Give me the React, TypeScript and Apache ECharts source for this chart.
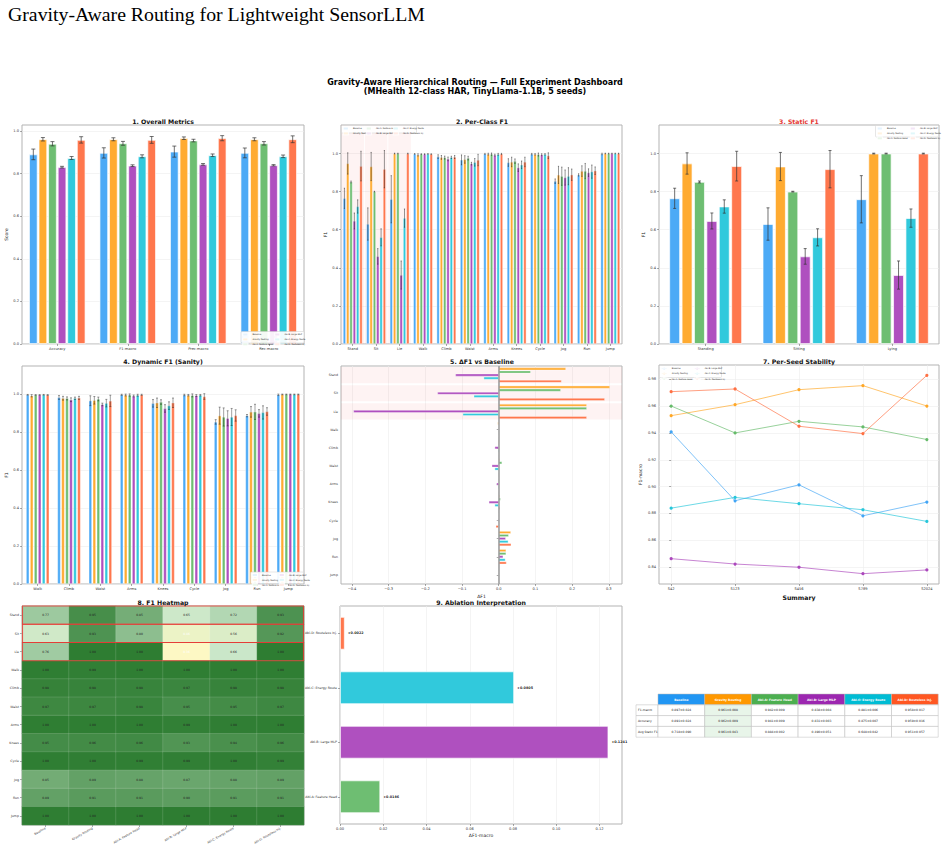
import React, { useEffect, useRef } from 'react';
import * as echarts from 'echarts';

const FONT = 'DejaVu Sans';

const methods = ['Baseline', 'Gravity Routing', 'Abl-A: Feature Head', 'Abl-B: Large MLP', 'Abl-C: Energy Route', 'Abl-D: Routeless Inj.'];
const methodColors = ['#42A5F5', '#FFA726', '#66BB6A', '#AB47BC', '#26C6DA', '#FF7043'];
const headerColors = ['#2196F3', '#FF9800', '#4CAF50', '#9C27B0', '#00BCD4', '#FF5722'];

// Panel 1: overall metrics
const metricCats = ['Accuracy', 'F1-macro', 'Prec-macro', 'Rec-macro'];
const overallMean = [
  [0.890, 0.897, 0.903, 0.897],
  [0.961, 0.961, 0.966, 0.961],
  [0.940, 0.942, 0.955, 0.942],
  [0.830, 0.837, 0.843, 0.839],
  [0.873, 0.881, 0.886, 0.881],
  [0.958, 0.958, 0.966, 0.961],
];
const overallStd = [
  [0.025, 0.024, 0.026, 0.023],
  [0.008, 0.007, 0.006, 0.007],
  [0.010, 0.009, 0.006, 0.008],
  [0.004, 0.004, 0.004, 0.003],
  [0.007, 0.007, 0.006, 0.006],
  [0.015, 0.016, 0.012, 0.016],
];

// Panel 2/3/4/8: per-class F1
const classes = ['Stand', 'Sit', 'Lie', 'Walk', 'Climb', 'Waist', 'Arms', 'Knees', 'Cycle', 'Jog', 'Run', 'Jump'];
const staticNames = ['Standing', 'Sitting', 'Lying'];
const perClassMean = [
  [0.765, 0.630, 0.760, 0.998, 0.984, 0.967, 0.998, 0.953, 0.997, 0.855, 0.888, 0.998],
  [0.948, 0.932, 1.000, 0.993, 0.980, 0.969, 0.997, 0.956, 0.996, 0.888, 0.908, 1.000],
  [0.851, 0.800, 1.000, 0.997, 0.979, 0.976, 0.997, 0.960, 0.995, 0.881, 0.908, 1.000],
  [0.646, 0.460, 0.362, 0.997, 0.972, 0.947, 0.992, 0.926, 0.994, 0.874, 0.900, 1.000],
  [0.722, 0.560, 0.661, 0.998, 0.980, 0.954, 0.996, 0.941, 0.996, 0.881, 0.905, 1.000],
  [0.934, 0.918, 1.000, 0.997, 0.982, 0.966, 0.998, 0.956, 0.989, 0.889, 0.910, 1.000],
];
const perClassStd = [
  [0.053, 0.085, 0.124, 0.002, 0.010, 0.026, 0.003, 0.020, 0.004, 0.012, 0.006, 0.004],
  [0.056, 0.074, 0.002, 0.006, 0.010, 0.020, 0.005, 0.025, 0.004, 0.045, 0.028, 0.002],
  [0.005, 0.002, 0.002, 0.002, 0.008, 0.010, 0.006, 0.012, 0.008, 0.048, 0.040, 0.002],
  [0.042, 0.041, 0.074, 0.002, 0.010, 0.007, 0.005, 0.020, 0.005, 0.040, 0.020, 0.002],
  [0.035, 0.045, 0.048, 0.002, 0.006, 0.020, 0.005, 0.020, 0.004, 0.045, 0.035, 0.002],
  [0.078, 0.098, 0.002, 0.002, 0.008, 0.030, 0.003, 0.025, 0.015, 0.030, 0.020, 0.002],
];

// Panel 5: delta F1 vs baseline (methods 1..5)
const deltaF1 = [
  [0.183, 0.303, 0.240, -0.003, -0.002, 0.002, 0.001, 0.002, -0.001, 0.033, 0.020, 0.001],
  [0.087, 0.169, 0.240, 0.000, -0.002, 0.009, -0.001, 0.005, -0.001, 0.027, 0.020, 0.001],
  [-0.118, -0.167, -0.396, -0.001, -0.011, -0.019, -0.006, -0.027, -0.002, 0.019, 0.012, 0.001],
  [-0.041, -0.068, -0.098, 0.001, -0.002, -0.011, -0.002, -0.011, -0.001, 0.026, 0.018, 0.001],
  [0.171, 0.289, 0.240, 0.000, 0.000, -0.001, 0.000, 0.003, -0.008, 0.034, 0.021, 0.001],
];

// Panel 7: per-seed F1-macro
const seeds = ['S42', 'S123', 'S456', 'S789', 'S2024'];
const seedF1 = [
  [0.9408, 0.8894, 0.9013, 0.8782, 0.8884],
  [0.9529, 0.9611, 0.9723, 0.9753, 0.9601],
  [0.9601, 0.9400, 0.9487, 0.9445, 0.9351],
  [0.8462, 0.8422, 0.8398, 0.8350, 0.8378],
  [0.8839, 0.8919, 0.8872, 0.8827, 0.8740],
  [0.9708, 0.9728, 0.9450, 0.9395, 0.9830],
];

// Panel 9: ablation interpretation
const ablationNames = ['Abl-A: Feature Head', 'Abl-B: Large MLP', 'Abl-C: Energy Route', 'Abl-D: Routeless Inj.'];
const ablationDelta = [0.0186, 0.1241, 0.0805, 0.0022];

// Summary table
const tableRowLabels = ['F1-macro', 'Accuracy', 'Avg Static F1'];
const tableF1 = ['0.897±0.024', '0.961±0.008', '0.942±0.009', '0.838±0.004', '0.881±0.006', '0.958±0.017'];
const tableAcc = ['0.891±0.024', '0.962±0.009', '0.941±0.009', '0.831±0.003', '0.875±0.007', '0.959±0.016'];
const tableStatic = ['0.718±0.090', '0.961±0.043', '0.884±0.002', '0.490±0.051', '0.648±0.042', '0.951±0.057'];

const GRIDS = [
  { left: 22, top: 125, width: 282, height: 219 },
  { left: 341, top: 125, width: 281, height: 219 },
  { left: 659, top: 125, width: 280, height: 219 },
  { left: 22, top: 366, width: 282, height: 218 },
  { left: 341, top: 366, width: 281, height: 218 },
  { left: 659, top: 365, width: 280, height: 219 },
  { left: 22, top: 606, width: 282, height: 219 },
  { left: 340, top: 606, width: 282, height: 218 },
];

const tickLabel = { fontSize: 3.6, color: '#333', fontFamily: FONT, margin: 3 };
const tickStyle = { show: true, length: 2, lineStyle: { color: '#555', width: 0.5 } };
const splitFaint = { show: true, lineStyle: { color: '#ececec', width: 0.6 } };

function axisName(name: string, gap: number) {
  return { name, nameLocation: 'middle', nameGap: gap, nameTextStyle: { fontSize: 4.5, color: '#222', fontFamily: FONT } };
}

function catAxis(gi: number, data: string[], extra: any = {}) {
  return {
    type: 'category', gridIndex: gi, data,
    axisLine: { show: false },
    axisTick: { ...tickStyle, alignWithLabel: true },
    axisLabel: { ...tickLabel, interval: 0 },
    splitLine: { show: false },
    ...extra,
  };
}

function valAxis(gi: number, min: number, max: number, ticks: number[], fmt: (v: number) => string, extra: any = {}) {
  return {
    type: 'value', gridIndex: gi, min, max,
    axisLine: { show: false },
    axisTick: { ...tickStyle, customValues: ticks },
    axisLabel: { ...tickLabel, customValues: ticks, formatter: fmt },
    splitLine: splitFaint,
    ...extra,
  };
}

function makeErr(m: number, n: number, catGap: number, gap: number, color: string, width: number, cap: number) {
  return (params: any, api: any) => {
    const c = api.value(0);
    const lo = api.value(1);
    const hi = api.value(2);
    const band = api.size([1, 0])[0];
    const avail = band * (1 - catGap);
    const bw = avail / (n + (n - 1) * gap);
    const p0 = api.coord([c, lo]);
    const p1 = api.coord([c, hi]);
    const x = p0[0] - avail / 2 + m * bw * (1 + gap) + bw / 2;
    const st = { stroke: color, lineWidth: width };
    const children: any[] = [{ type: 'line', shape: { x1: x, y1: p0[1], x2: x, y2: p1[1] }, style: st }];
    if (cap > 0) {
      children.push({ type: 'line', shape: { x1: x - cap, y1: p0[1], x2: x + cap, y2: p0[1] }, style: st });
      children.push({ type: 'line', shape: { x1: x - cap, y1: p1[1], x2: x + cap, y2: p1[1] }, style: st });
    }
    return { type: 'group', children };
  };
}

function addGroupedBars(series: any[], ai: number, means: number[][], stds: number[][], catGap: number, gap: number, err: any) {
  const n = means.length;
  means.forEach((arr, m) => {
    series.push({
      type: 'bar', name: methods[m], xAxisIndex: ai, yAxisIndex: ai, data: arr,
      barCategoryGap: `${Math.round(catGap * 100)}%`, barGap: `${Math.round(gap * 100)}%`,
      itemStyle: { color: methodColors[m], borderColor: 'rgba(255,255,255,0.9)', borderWidth: err.border, opacity: 0.95 },
      silent: true,
    });
  });
  means.forEach((arr, m) => {
    series.push({
      type: 'custom', name: '_err', xAxisIndex: ai, yAxisIndex: ai, z: 5, silent: true,
      encode: { x: 0, y: [1, 2] },
      data: arr.map((v, i) => [i, v - stds[m][i], v + stds[m][i]]),
      renderItem: makeErr(m, n, Math.round(catGap * 100) / 100, Math.round(gap * 100) / 100, err.color, err.width, err.cap),
    });
  });
}

const LINE_ICON = 'path://M0,4.4h12v1.2h-12z M6,2.4a2.6,2.6 0 1 0 0.001 0z';

// legend block: columns of method indices, frame drawn as graphic rect
function legendBlock(cols: number[][], x: number, y: number, colXs: number[], w: number, h: number, line: boolean, legends: any[], g: any[]) {
  g.push({ type: 'rect', z: 3, shape: { x, y, width: w, height: h, r: 1 }, style: { fill: 'rgba(255,255,255,0.92)', stroke: '#cccccc', lineWidth: 0.5 } });
  cols.forEach((col, ci) => {
    legends.push({
      data: col.map((i) => ({ name: methods[i], icon: line ? LINE_ICON : 'rect' })),
      left: x + 1.2 + colXs[ci], top: y + 1, orient: 'vertical',
      itemWidth: line ? 5 : 4.2, itemHeight: line ? 2.4 : 2, itemGap: 0.9,
      padding: 0,
      textStyle: { fontSize: 2.1, lineHeight: 2.5, color: '#222', fontFamily: FONT },
      selectedMode: false,
    });
  });
}

function titleText(text: string, x: number, y: number, color = '#111') {
  return { type: 'text', x, y, z: 50, style: { text, fontSize: 6.2, fontWeight: 'bold', fontFamily: FONT, fill: color, align: 'center', verticalAlign: 'middle' } };
}

function buildOption() {
  const series: any[] = [];
  const xAxis: any[] = [];
  const yAxis: any[] = [];
  const g: any[] = [];
  const legend: any[] = [];
  const grid = GRIDS.map((gr) => ({ ...gr, show: true, borderColor: '#b3b3b3', borderWidth: 1, backgroundColor: '#fff', containLabel: false }));
  const f1 = (v: number) => v.toFixed(1);
  const ticks01 = [0, 0.2, 0.4, 0.6, 0.8, 1.0];

  // Panel 1
  xAxis.push(catAxis(0, metricCats));
  yAxis.push(valAxis(0, 0, 1.028, ticks01, f1, axisName('Score', 12)));
  addGroupedBars(series, 0, overallMean, overallStd, 0.2, 0.12, { color: '#333', width: 0.7, cap: 2, border: 0.8 });

  // Panel 2
  xAxis.push(catAxis(1, classes));
  yAxis.push(valAxis(1, 0, 1.15, ticks01, f1, axisName('F1', 12)));
  series.push({
    type: 'custom', name: '_shade2', xAxisIndex: 1, yAxisIndex: 1, z: 1, silent: true,
    encode: { x: 0, y: 1 },
    data: [[0, 0], [1, 0], [2, 0]],
    renderItem: (params: any, api: any) => {
      const cx = api.coord([api.value(0), 0])[0];
      const bw = api.size([1, 0])[0];
      const cs = params.coordSys;
      return { type: 'rect', shape: { x: cx - bw * 0.48, y: cs.y, width: bw * 0.96, height: cs.height }, style: { fill: 'rgba(239,83,80,0.07)' } };
    },
  });
  addGroupedBars(series, 1, perClassMean, perClassStd, 0.17, 0.15, { color: 'rgba(40,40,40,0.55)', width: 0.9, cap: 0.6, border: 0.5 });

  // Panel 3
  xAxis.push(catAxis(2, staticNames));
  yAxis.push(valAxis(2, 0, 1.15, ticks01, f1, axisName('F1', 12)));
  addGroupedBars(series, 2, perClassMean.map((a) => a.slice(0, 3)), perClassStd.map((a) => a.slice(0, 3)), 0.22, 0.15, { color: '#333', width: 0.7, cap: 1.5, border: 0.8 });

  // Panel 4
  xAxis.push(catAxis(3, classes.slice(3)));
  yAxis.push(valAxis(3, 0, 1.15, ticks01, f1, axisName('F1', 12)));
  addGroupedBars(series, 3, perClassMean.map((a) => a.slice(3)), perClassStd.map((a) => a.slice(3)), 0.26, 0.25, { color: 'rgba(30,30,30,0.7)', width: 0.6, cap: 1, border: 0.5 });

  // Panel 5
  const dTicks = [-0.4, -0.3, -0.2, -0.1, 0, 0.1, 0.2, 0.3];
  xAxis.push(valAxis(4, -0.43, 0.336, dTicks, (v: number) => (v < 0 ? '\u2212' + Math.abs(v).toFixed(1) : v.toFixed(1)), axisName('\u0394F1', 10)));
  yAxis.push(catAxis(4, classes, { inverse: true, axisLabel: { ...tickLabel, interval: 0, fontSize: 3.2 } }));
  series.push({
    type: 'custom', name: '_shade5', xAxisIndex: 4, yAxisIndex: 4, z: 1, silent: true,
    encode: { x: 0, y: 1 },
    data: [[0, 0], [0, 1], [0, 2]],
    renderItem: (params: any, api: any) => {
      const cy = api.coord([0, api.value(1)])[1];
      const h = api.size([0, 1])[1];
      const cs = params.coordSys;
      return { type: 'rect', shape: { x: cs.x, y: cy - h * 0.445, width: cs.width, height: h * 0.89 }, style: { fill: 'rgba(239,83,80,0.07)' } };
    },
  });
  deltaF1.forEach((arr, k) => {
    const m = k + 1;
    series.push({
      type: 'bar', name: methods[m], xAxisIndex: 4, yAxisIndex: 4, data: arr, silent: true,
      barCategoryGap: '18%', barGap: '20%',
      itemStyle: { color: methodColors[m], borderColor: 'rgba(255,255,255,0.9)', borderWidth: 0.4, opacity: 0.95 },
      markLine: k === 0 ? {
        silent: true, symbol: 'none', label: { show: false },
        lineStyle: { color: '#999', width: 1.5, type: 'solid' },
        data: [{ xAxis: 0 }],
      } : undefined,
    });
  });

  // Panel 7
  xAxis.push(valAxis(5, -0.19, 4.19, [0, 1, 2, 3, 4], (v: number) => seeds[Math.round(v)] || ''));
  yAxis.push(valAxis(5, 0.8273, 0.9907, [0.84, 0.86, 0.88, 0.90, 0.92, 0.94, 0.96, 0.98], (v: number) => v.toFixed(2), axisName('F1-macro', 16)));
  seedF1.forEach((arr, m) => {
    series.push({
      type: 'line', name: methods[m], xAxisIndex: 5, yAxisIndex: 5, silent: true,
      data: arr.map((v, i) => [i, v]),
      symbol: 'circle', symbolSize: 3.2,
      lineStyle: { color: methodColors[m], width: 0.9, opacity: 0.75 },
      itemStyle: { color: methodColors[m] },
    });
  });

  // Panel 8: heatmap
  xAxis.push(catAxis(6, methods, { axisLabel: { ...tickLabel, interval: 0, fontSize: 3, rotate: 30 } }));
  yAxis.push(catAxis(6, classes, { inverse: true, axisLabel: { ...tickLabel, interval: 0, fontSize: 3.2 } }));
  const heatData: any[] = [];
  methods.forEach((_, c) => {
    classes.forEach((__, r) => {
      const v = perClassMean[c][r];
      heatData.push({ value: [c, r, v], label: { color: v < 0.5 ? '#ffffff' : '#222222' } });
    });
  });
  const heatIdx = series.length;
  series.push({
    type: 'heatmap', name: '_heat', xAxisIndex: 6, yAxisIndex: 6, silent: true,
    data: heatData,
    itemStyle: { borderColor: 'rgba(255,255,255,0.25)', borderWidth: 0.5 },
    label: { show: true, fontSize: 3, fontFamily: FONT, formatter: (p: any) => p.value[2].toFixed(2) },
  });
  series.push({
    type: 'custom', name: '_box8', xAxisIndex: 6, yAxisIndex: 6, z: 10, silent: true,
    encode: { x: 0, y: 1 },
    data: [[0, 0], [0, 1], [0, 2]],
    renderItem: (params: any, api: any) => {
      const cy = api.coord([0, api.value(1)])[1];
      const h = api.size([0, 1])[1];
      const cs = params.coordSys;
      return { type: 'rect', shape: { x: cs.x + 0.5, y: cy - h / 2, width: cs.width - 1, height: h }, style: { fill: 'none', stroke: '#e53935', lineWidth: 1.1, opacity: 0.85 } };
    },
  });

  // Panel 9
  xAxis.push(valAxis(7, 0, 0.1304, [0, 0.02, 0.04, 0.06, 0.08, 0.10, 0.12], (v: number) => v.toFixed(2), axisName('\u0394F1-macro', 9)));
  yAxis.push(catAxis(7, ablationNames, { axisLabel: { ...tickLabel, interval: 0, fontSize: 3.2 } }));
  series.push({
    type: 'bar', name: '_abl', xAxisIndex: 7, yAxisIndex: 7, silent: true,
    barCategoryGap: '40%',
    data: ablationDelta.map((v, i) => ({ value: v, itemStyle: { color: methodColors[i + 2] } })),
    itemStyle: { borderColor: 'rgba(255,255,255,0.9)', borderWidth: 0.8, opacity: 0.95 },
    label: { show: true, position: 'right', distance: 3, fontSize: 3.4, fontWeight: 'bold', color: '#111', fontFamily: FONT, formatter: (p: any) => '+' + p.value.toFixed(4) },
  });

  // Legends
  legendBlock([[0, 1, 2], [3, 4, 5]], 241, 331.5, [0, 32], 63, 11.5, false, legend, g);
  legendBlock([[0, 1], [2, 3], [4, 5]], 341.5, 125.5, [0, 23, 50], 75, 7.5, false, legend, g);
  legendBlock([[0, 1, 2], [3, 4, 5]], 875.5, 125.5, [0, 33], 63, 11.5, false, legend, g);
  legendBlock([[0, 1, 2], [3, 4, 5]], 250.5, 572, [0, 27], 53, 11.5, false, legend, g);
  legendBlock([[0, 1, 2], [3, 4, 5]], 659.5, 365.5, [0, 33], 62, 12, true, legend, g);

  // Graphic texts & table
  g.push({ type: 'text', x: 8, y: 14, z: 50, style: { text: 'Gravity-Aware Routing for Lightweight SensorLLM', fontSize: 19.8, fontFamily: 'Liberation Serif', fill: '#000', align: 'left', verticalAlign: 'middle' } });
  g.push({ type: 'text', x: 475, y: 82, z: 50, style: { text: 'Gravity-Aware Hierarchical Routing \u2014 Full Experiment Dashboard', fontSize: 8.0, fontWeight: 'bold', fontFamily: FONT, fill: '#000', align: 'center', verticalAlign: 'middle' } });
  g.push({ type: 'text', x: 475, y: 91.5, z: 50, style: { text: '(MHealth 12-class HAR, TinyLlama-1.1B, 5 seeds)', fontSize: 8.0, fontWeight: 'bold', fontFamily: FONT, fill: '#000', align: 'center', verticalAlign: 'middle' } });
  g.push(titleText('1. Overall Metrics', 163, 121));
  g.push(titleText('2. Per-Class F1', 482, 121));
  g.push(titleText('3. Static F1', 799, 121, '#e53935'));
  g.push(titleText('4. Dynamic F1 (Sanity)', 163, 361));
  g.push(titleText('5. \u0394F1 vs Baseline', 482, 361));
  g.push(titleText('7. Per-Seed Stability', 799, 361));
  g.push(titleText('8. F1 Heatmap', 163, 602));
  g.push(titleText('9. Ablation Interpretation', 481, 602));
  g.push(titleText('Summary', 799, 597));

  const tx0 = 636, labW = 22, colW = 46.7, ty0 = 694, rowH = 10.8;
  const rows = [tableF1, tableAcc, tableStatic];
  methods.forEach((name, c) => {
    const x = tx0 + labW + c * colW;
    g.push({ type: 'rect', z: 40, shape: { x, y: ty0, width: colW, height: rowH }, style: { fill: headerColors[c], stroke: '#bbbbbb', lineWidth: 0.5 } });
    g.push({ type: 'text', z: 41, x: x + colW / 2, y: ty0 + rowH / 2, style: { text: name, fontSize: 3, fontWeight: 'bold', fill: '#fff', fontFamily: FONT, align: 'center', verticalAlign: 'middle' } });
  });
  rows.forEach((row, r) => {
    const y = ty0 + rowH * (r + 1);
    g.push({ type: 'rect', z: 40, shape: { x: tx0, y, width: labW, height: rowH }, style: { fill: '#fff', stroke: '#bbbbbb', lineWidth: 0.5 } });
    g.push({ type: 'text', z: 41, x: tx0 + 2, y: y + rowH / 2, style: { text: tableRowLabels[r], fontSize: 3, fill: '#222', fontFamily: FONT, align: 'left', verticalAlign: 'middle' } });
    row.forEach((val, c) => {
      const x = tx0 + labW + c * colW;
      g.push({ type: 'rect', z: 40, shape: { x, y, width: colW, height: rowH }, style: { fill: c === 1 ? '#e8f5e9' : '#fff', stroke: '#bbbbbb', lineWidth: 0.5 } });
      g.push({ type: 'text', z: 41, x: x + colW / 2, y: y + rowH / 2, style: { text: val, fontSize: 3, fill: '#222', fontFamily: FONT, align: 'center', verticalAlign: 'middle' } });
    });
  });

  return {
    animation: false,
    backgroundColor: '#ffffff',
    textStyle: { fontFamily: FONT },
    grid, xAxis, yAxis, series, legend,
    visualMap: { show: false, type: 'continuous', min: 0.35, max: 1.0, dimension: 2, seriesIndex: heatIdx, inRange: { color: ['#fff9c4', '#c8e6c9', '#2e7d32'] } },
    graphic: { elements: g },
  };
}

export default function App() {
  const ref = useRef<HTMLDivElement>(null);
  useEffect(() => {
    const chart = echarts.init(ref.current as HTMLDivElement, null, { renderer: 'svg' });
    chart.setOption(buildOption() as any);
    return () => chart.dispose();
  }, []);
  return <div ref={ref} style={{ position: 'absolute', left: 0, top: 0, width: 946, height: 848 }} />;
}
